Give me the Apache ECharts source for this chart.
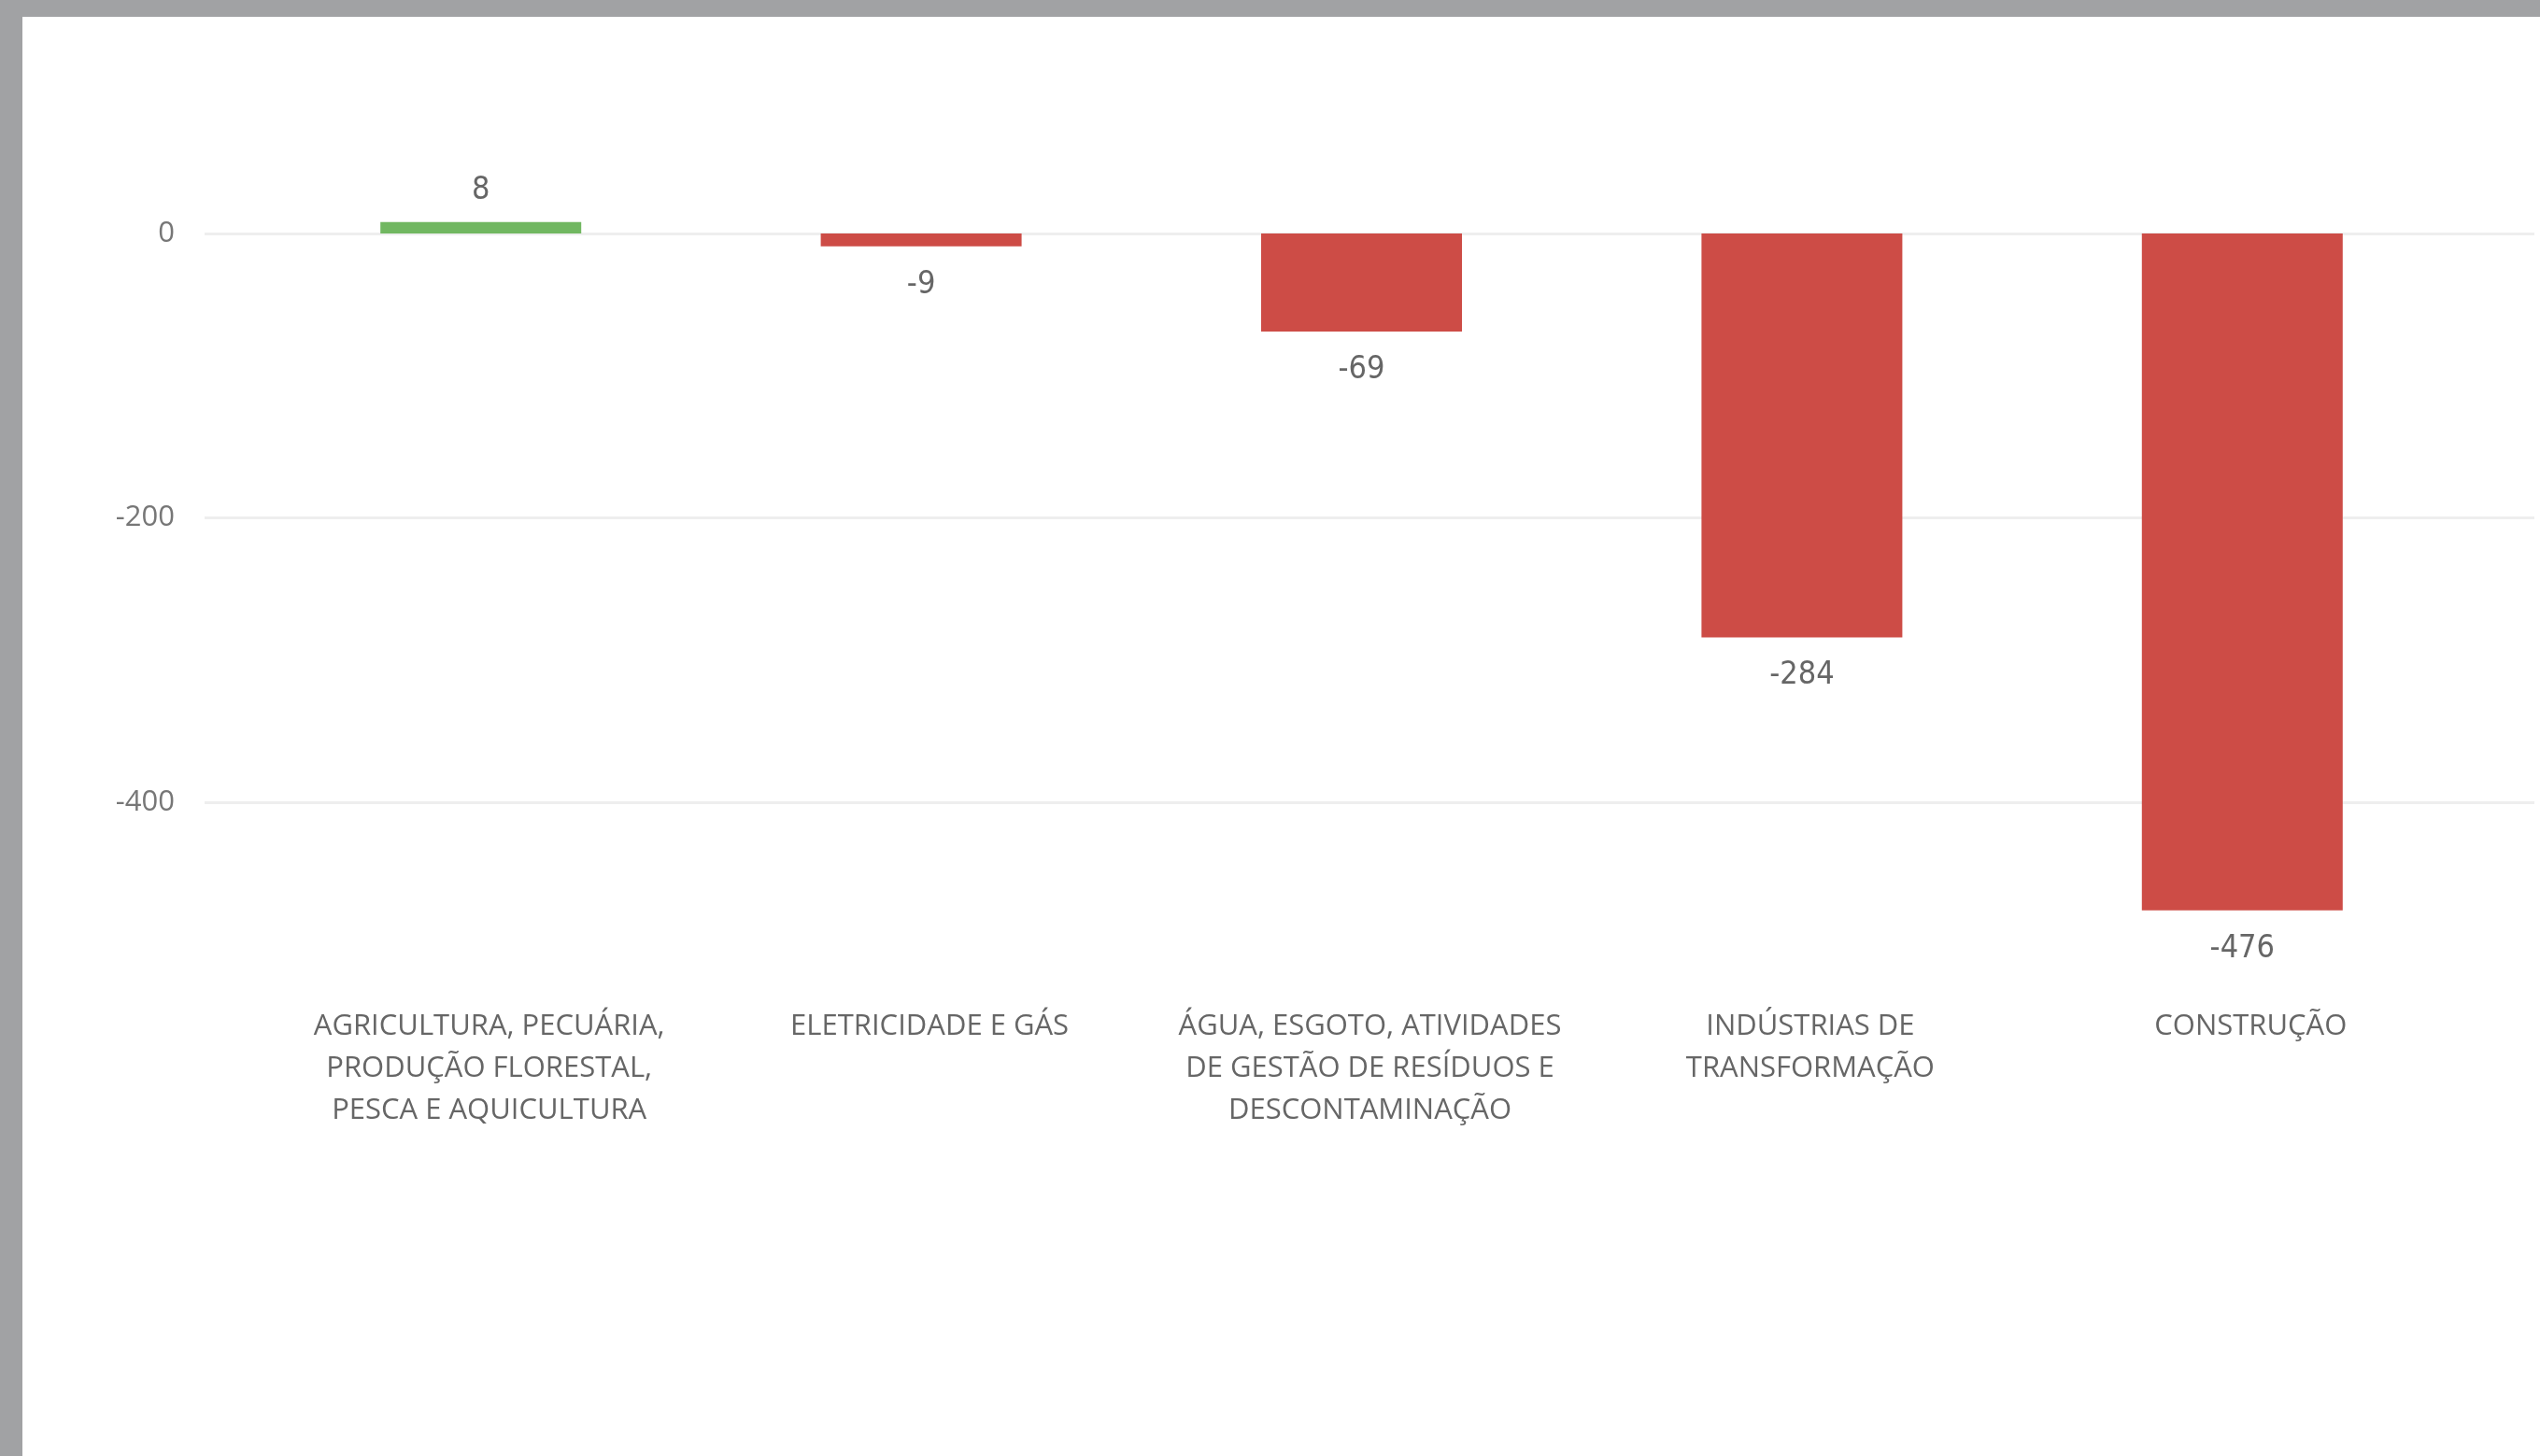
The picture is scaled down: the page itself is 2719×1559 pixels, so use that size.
<!DOCTYPE html>
<html><head><meta charset="utf-8">
<script src="https://cdn.jsdelivr.net/npm/echarts@6/dist/echarts.min.js"></script>
<style>
html,body{margin:0;padding:0;width:2719px;height:1559px;background:#a1a2a4;overflow:hidden;}
#chart{position:absolute;left:24px;top:18px;width:2695px;height:1541px;background:#fff;}
</style></head><body><div id="chart"></div>
<script>
const categories = [
  'AGRICULTURA, PECUÁRIA,\nPRODUÇÃO FLORESTAL,\nPESCA E AQUICULTURA',
  'ELETRICIDADE E GÁS',
  'ÁGUA, ESGOTO, ATIVIDADES\nDE GESTÃO DE RESÍDUOS E\nDESCONTAMINAÇÃO',
  'INDÚSTRIAS DE\nTRANSFORMAÇÃO',
  'CONSTRUÇÃO'
];
const values = [8, -9, -69, -284, -476];
const yTicks = [-400, -200, 0];

const POS_COLOR = '#71b761';
const NEG_COLOR = '#cd4c46';

const chart = echarts.init(document.getElementById('chart'), null, {renderer: 'canvas'});
const yMin = Math.min(...yTicks), yMax = Math.max(...yTicks), yStep = yTicks[1] - yTicks[0];

chart.setOption({
  animation: false,
  backgroundColor: '#ffffff',
  grid: [
    {left: 195, right: 6, top: 232, bottom: 700},
    {left: 255, right: 83, top: 140.65, bottom: 486.8}
  ],
  xAxis: [
    {gridIndex: 0, type: 'value', min: 0, max: 1, show: false},
    {
      gridIndex: 1, type: 'category', data: categories,
      axisLine: {show: false}, axisTick: {show: false},
      axisLabel: {
        interval: 0, margin: 4, color: '#666666', fontSize: 31, lineHeight: 45,
        fontFamily: "'Open Sans', 'Noto Sans', sans-serif", padding: [0, 0, 0, 18]
      }
    }
  ],
  yAxis: [
    {
      gridIndex: 0, type: 'value', min: yMin, max: yMax, interval: yStep,
      axisLine: {show: false}, axisTick: {show: false},
      axisLabel: {color: '#777777', fontSize: 31, margin: 32, fontFamily: "'Open Sans', 'Noto Sans', sans-serif"},
      splitLine: {lineStyle: {color: '#eeeeee', width: 3}}
    },
    {gridIndex: 1, type: 'value', min: -540, max: 60, show: false}
  ],
  series: [{
    type: 'bar', xAxisIndex: 1, yAxisIndex: 1, barWidth: 215, silent: true,
    data: values.map(v => ({
      value: v,
      itemStyle: {color: v >= 0 ? POS_COLOR : NEG_COLOR},
      label: {position: v >= 0 ? 'top' : 'bottom', distance: v >= 0 ? 17 : 24}
    })),
    label: {
      show: true, color: '#666666', fontSize: 34,
      fontFamily: "'Liberation Sans Narrow', 'DejaVu Sans Condensed', 'Roboto', sans-serif",
      formatter: p => String(p.value)
    }
  }]
});
</script></body></html>
